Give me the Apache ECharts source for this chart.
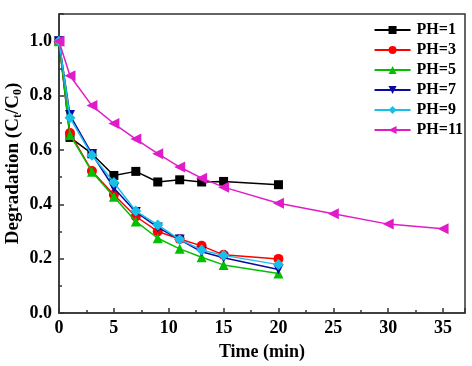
<!DOCTYPE html>
<html><head><meta charset="utf-8">
<script src="https://cdn.jsdelivr.net/npm/echarts@6/dist/echarts.min.js"></script>
<style>html,body{margin:0;padding:0;background:#fff}#c{width:472px;height:366px}</style>
</head><body><div id="c"></div>
<script>
const timesShort = [0, 1, 3, 5, 7, 9, 11, 13, 15, 20];
const timesLong = [0, 1, 3, 5, 7, 9, 11, 13, 15, 20, 25, 30, 35];
const ph1 = [1.0, 0.646, 0.586, 0.506, 0.521, 0.482, 0.490, 0.482, 0.484, 0.472];
const ph3 = [1.0, 0.662, 0.522, 0.435, 0.355, 0.300, 0.272, 0.247, 0.214, 0.199];
const ph5 = [1.0, 0.655, 0.520, 0.428, 0.337, 0.275, 0.236, 0.205, 0.177, 0.145];
const ph7 = [1.0, 0.728, 0.585, 0.460, 0.372, 0.315, 0.270, 0.225, 0.203, 0.160];
const ph9 = [1.0, 0.718, 0.580, 0.480, 0.375, 0.324, 0.270, 0.232, 0.212, 0.178];
const ph11 = [1.0, 0.873, 0.763, 0.697, 0.640, 0.586, 0.537, 0.496, 0.463, 0.404, 0.365, 0.327, 0.310];
const seriesNames = ['PH=1', 'PH=3', 'PH=5', 'PH=7', 'PH=9', 'PH=11'];
const xTicks = [0, 5, 10, 15, 20, 25, 30, 35];
const yTicks = [0.0, 0.2, 0.4, 0.6, 0.8, 1.0];

const colors = ['#000000', '#ff0000', '#00c000', '#0a0aa0', '#18c0e8', '#e01cc8'];
const symbols = ['rect', 'circle', 'triangle', 'triangle', 'diamond', 'triangle'];
const rotates = [0, 0, 0, 180, 0, 90];
const sizes = [9, 10, 10, 10, 11, 11];
const datasets = [ph1, ph3, ph5, ph7, ph9, ph11];
const xs = [timesShort, timesShort, timesShort, timesShort, timesShort, timesLong];

const font = '"Liberation Serif", "Times New Roman", serif';
const chart = echarts.init(document.getElementById('c'), null, {renderer: 'canvas'});
chart.setOption({
  animation: false,
  backgroundColor: '#fff',
  grid: {left: 59, top: 14, right: 7, bottom: 53, containLabel: false, outerBoundsMode: 'none',
    show: true, borderColor: '#333', borderWidth: 1.5, backgroundColor: 'transparent'},
  legend: {
    orient: 'vertical', right: 4, top: 17,
    itemWidth: 36, itemHeight: 10, itemGap: 4,
    textStyle: {fontFamily: font, fontWeight: 'bold', fontSize: 16, color: '#000', padding: [0,0,0,1]},
    data: seriesNames
  },
  xAxis: {
    type: 'value', min: 0, max: 37, interval: 5,
    name: 'Time (min)', nameLocation: 'middle', nameGap: 30, nameMoveOverlap: false,
    nameTextStyle: {fontFamily: font, fontWeight: 'bold', fontSize: 18, color: '#000'},
    axisLine: {lineStyle: {color: '#333', width: 1.5}},
    axisTick: {inside: true, length: 5, lineStyle: {color: '#333', width: 1.5}},
    minorTick: {show: true, splitNumber: 2, length: 3, lineStyle: {color: '#333', width: 1.5}},
    splitLine: {show: false},
    axisLabel: {fontFamily: font, fontWeight: 'bold', fontSize: 18, color: '#000', margin: 6, showMaxLabel: false,
      formatter: v => xTicks.includes(v) ? String(v) : ''}
  },
  yAxis: {
    type: 'value', min: 0, max: 1.1, interval: 0.2,
    name: '{a|Degradation (C}{s|t}{a|/C}{s|0}{a|)}', nameLocation: 'middle', nameGap: 35, nameRotate: 90, nameMoveOverlap: false,
    nameTextStyle: {fontFamily: font, fontWeight: 'bold', fontSize: 19, color: '#000',
      rich: {a: {fontFamily: font, fontWeight: 'bold', fontSize: 19, color: '#000', lineHeight: 22},
             s: {fontFamily: font, fontWeight: 'bold', fontSize: 12, color: '#000', lineHeight: 22, verticalAlign: 'bottom'}}},
    axisLine: {lineStyle: {color: '#333', width: 1.5}},
    axisTick: {inside: true, length: 5, lineStyle: {color: '#333', width: 1.5}},
    minorTick: {show: true, splitNumber: 2, length: 3, lineStyle: {color: '#333', width: 1.5}},
    splitLine: {show: false},
    axisLabel: {fontFamily: font, fontWeight: 'bold', fontSize: 18, color: '#000', margin: 7, showMaxLabel: false,
      formatter: v => { const f = Math.round(v*10)/10; return yTicks.some(t => Math.abs(t - v) < 1e-6) ? f.toFixed(1) : ''; }}
  },
  series: seriesNames.map((n, i) => ({
    name: n, type: 'line',
    data: xs[i].map((t, j) => [t, datasets[i][j]]),
    symbol: symbols[i], symbolRotate: rotates[i], symbolSize: sizes[i],
    showAllSymbol: true,
    lineStyle: {color: colors[i], width: 1.5},
    itemStyle: {color: colors[i]},
    z: 2 + i
  }))
});
</script></body></html>
